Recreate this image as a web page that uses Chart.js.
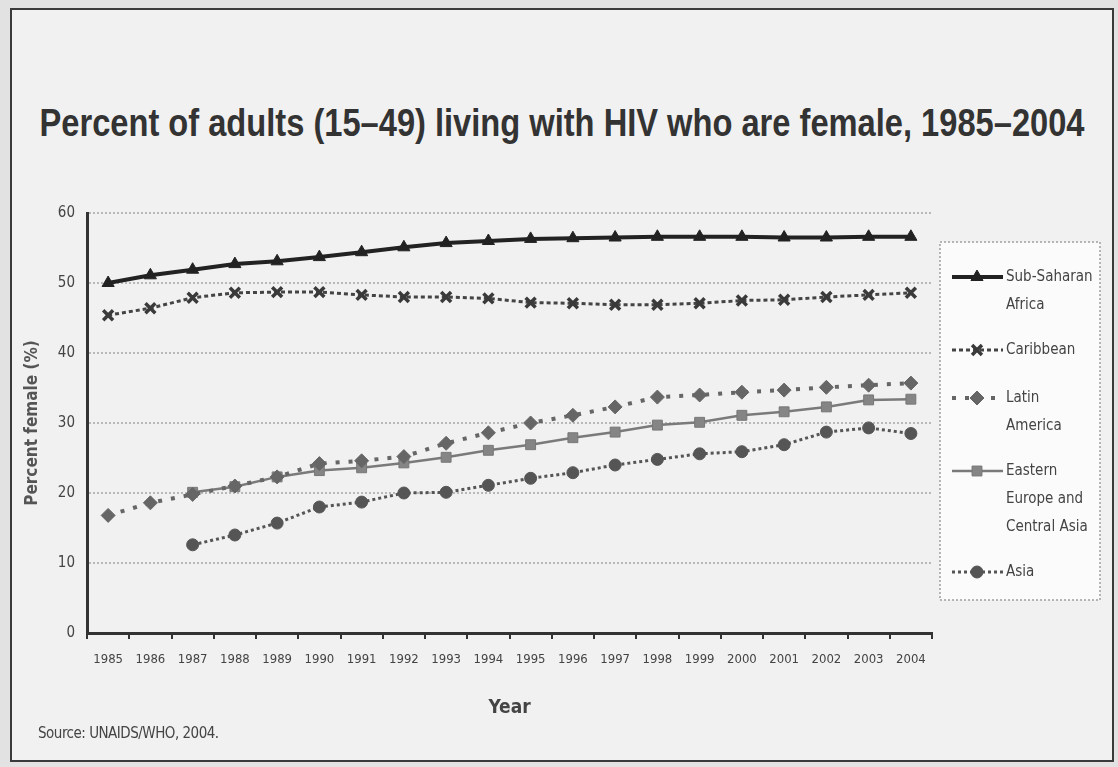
<!DOCTYPE html>
<html>
<head>
<meta charset="utf-8">
<script src="https://cdn.jsdelivr.net/npm/chart.js@4.4.1/dist/chart.umd.min.js"></script>
<style>
  html, body { margin: 0; padding: 0; }
  body { width: 1118px; height: 767px; background: #e2e2e2; position: relative; overflow: hidden; }
  #frame { position: absolute; left: 10px; top: 8px; width: 1100px; height: 750px; border: 2px solid #3a3a3a; background: #f1f1f1; }
  #title { position: absolute; left: 562px; top: 102px; white-space: nowrap; transform-origin: center;
           font-family: "Liberation Sans", Arial, sans-serif; font-weight: bold; font-size: 38px; color: #333; }
  #source { position: absolute; left: 38px; top: 724px; font-family: "DejaVu Sans Condensed", "Liberation Sans", sans-serif;
            font-size: 15px; color: #444; letter-spacing: -0.5px; }
  #chartBox { position: absolute; left: 0; top: 0; width: 1118px; height: 767px; }
</style>
</head>
<body>
<div id="frame"></div>
<div id="title">Percent of adults (15–49) living with HIV who are female, 1985–2004</div>
<div id="chartBox"><canvas id="chart" width="1118" height="767"></canvas></div>
<div id="source">Source: UNAIDS/WHO, 2004.</div>
<script>
// Years on the category axis
const years = ['1985','1986','1987','1988','1989','1990','1991','1992','1993','1994',
               '1995','1996','1997','1998','1999','2000','2001','2002','2003','2004'];

// Percent of adults living with HIV who are female, by region
const subSaharanAfrica = [50.0, 51.1, 51.9, 52.7, 53.1, 53.7, 54.4, 55.1, 55.7, 56.0,
                          56.3, 56.4, 56.5, 56.6, 56.6, 56.6, 56.5, 56.5, 56.6, 56.6];
const caribbean        = [45.4, 46.4, 47.9, 48.6, 48.7, 48.7, 48.3, 48.0, 48.0, 47.8,
                          47.2, 47.1, 46.9, 46.9, 47.1, 47.5, 47.6, 48.0, 48.3, 48.6];
const latinAmerica     = [16.8, 18.6, 19.8, 21.0, 22.3, 24.2, 24.6, 25.2, 27.1, 28.6,
                          30.0, 31.1, 32.3, 33.7, 34.0, 34.4, 34.7, 35.1, 35.4, 35.7];
const easternEurope    = [null, null, 20.1, 20.9, 22.3, 23.2, 23.6, 24.3, 25.1, 26.1,
                          26.9, 27.9, 28.7, 29.7, 30.1, 31.1, 31.6, 32.3, 33.3, 33.4];
const asia             = [null, null, 12.6, 14.0, 15.7, 18.0, 18.7, 20.0, 20.1, 21.1,
                          22.1, 22.9, 24.0, 24.8, 25.6, 25.9, 26.9, 28.7, 29.3, 28.5];

// Legend text, one array of lines per series
const legendLines = [
  ['Sub-Saharan', 'Africa'],
  ['Caribbean'],
  ['Latin', 'America'],
  ['Eastern', 'Europe and', 'Central Asia'],
  ['Asia']
];
const yTicks = [0, 10, 20, 30, 40, 50, 60];

const narrow = '"DejaVu Sans Condensed", "Liberation Sans", sans-serif';

// squeeze the heading to its line width, centred on the page
(function () {
  const t = document.getElementById('title');
  const w = t.getBoundingClientRect().width;
  t.style.transform = 'translateX(-50%) scaleX(' + (1045 / w) + ')';
})();

// Boxed legend drawn to the right of the plot, with multi-line labels
const sideLegend = {
  id: 'sideLegend',
  afterDraw(chart) {
    const ctx = chart.ctx;
    const x0 = 940, y0 = 242, x1 = 1100, y1 = 600;
    ctx.save();
    ctx.fillStyle = '#fbfbfb';
    ctx.fillRect(x0, y0, x1 - x0, y1 - y0);
    ctx.strokeStyle = '#a0a0a0';
    ctx.lineWidth = 1.5;
    ctx.setLineDash([2, 2]);
    ctx.strokeRect(x0, y0, x1 - x0, y1 - y0);
    const rows = [277, 350, 398, 471, 572];
    const lineGap = 28;
    chart.data.datasets.forEach((ds, i) => {
      const y = rows[i];
      ctx.setLineDash(ds.borderDash || []);
      ctx.strokeStyle = ds.borderColor;
      ctx.lineWidth = ds.borderWidth;
      ctx.beginPath();
      ctx.moveTo(952, y);
      ctx.lineTo(1003, y);
      ctx.stroke();
      ctx.setLineDash([]);
      ctx.fillStyle = ds.pointBackgroundColor;
      ctx.strokeStyle = ds.pointBorderColor;
      ctx.lineWidth = ds.pointBorderWidth || 1;
      Chart.helpers.drawPoint(ctx, {pointStyle: ds.pointStyle, radius: ds.pointRadius, borderWidth: ds.pointBorderWidth || 1}, 977, y);
      ctx.fillStyle = '#444';
      ctx.font = '15px ' + narrow;
      ctx.textBaseline = 'middle';
      ctx.textAlign = 'left';
      legendLines[i].forEach((t, k) => ctx.fillText(t, 1006, y + k * lineGap));
    });
    ctx.restore();
  }
};

new Chart(document.getElementById('chart'), {
  type: 'line',
  data: {
    labels: years,
    datasets: [
      { label: 'Sub-Saharan Africa', data: subSaharanAfrica,
        borderColor: '#222', borderWidth: 4, pointStyle: 'triangle', pointRadius: 7,
        pointBackgroundColor: '#222', pointBorderColor: '#222', pointBorderWidth: 1 },
      { label: 'Caribbean', data: caribbean,
        borderColor: '#444', borderWidth: 3, borderDash: [4, 3], pointStyle: 'crossRot', pointRadius: 7,
        pointBackgroundColor: '#444', pointBorderColor: '#3a3a3a', pointBorderWidth: 3.5 },
      { label: 'Latin America', data: latinAmerica,
        borderColor: '#666', borderWidth: 4, borderDash: [4, 9], pointStyle: 'rectRot', pointRadius: 7,
        pointBackgroundColor: '#666', pointBorderColor: '#666', pointBorderWidth: 1 },
      { label: 'Eastern Europe and Central Asia', data: easternEurope,
        borderColor: '#7a7a7a', borderWidth: 2.5, pointStyle: 'rect', pointRadius: 7,
        pointBackgroundColor: '#858585', pointBorderColor: '#777', pointBorderWidth: 1 },
      { label: 'Asia', data: asia,
        borderColor: '#555', borderWidth: 3, borderDash: [3, 3], pointStyle: 'circle', pointRadius: 6,
        pointBackgroundColor: '#555', pointBorderColor: '#555', pointBorderWidth: 1 }
    ]
  },
  options: {
    responsive: false,
    animation: false,
    spanGaps: false,
    layout: { padding: { left: 22, right: 186, top: 213, bottom: 48 } },
    plugins: { legend: { display: false }, tooltip: { enabled: false } },
    scales: {
      x: {
        type: 'category',
        offset: true,
        grid: { display: true, drawOnChartArea: false, drawTicks: true, tickLength: 6, offset: true,
                color: '#333', lineWidth: 2 },
        border: { display: true, color: '#333', width: 3 },
        ticks: { color: '#444', font: { family: narrow, size: 13 }, padding: 13,
                 maxRotation: 0, autoSkip: false },
        title: { display: true, text: 'Year', color: '#444',
                 font: { family: narrow, size: 19, weight: 'bold' }, padding: { top: 12, bottom: 0 } },
        afterFit(scale) { scale.height = 86; }
      },
      y: {
        min: 0, max: 60,
        afterBuildTicks(scale) { scale.ticks = yTicks.map(v => ({ value: v })); },
        grid: { drawTicks: false, color: '#b8b8b8', lineWidth: 2 },
        border: { display: true, color: '#333', width: 3, dash: [2, 2] },
        ticks: { color: '#444', font: { family: narrow, size: 15 }, padding: 12 },
        title: { display: true, text: 'Percent female (%)', color: '#555',
                 font: { family: narrow, size: 17, weight: 'bold' }, padding: { top: 0, bottom: 10 } },
        afterFit(scale) { scale.width = 65; }
      }
    }
  },
  plugins: [sideLegend]
});
</script>
</body>
</html>
